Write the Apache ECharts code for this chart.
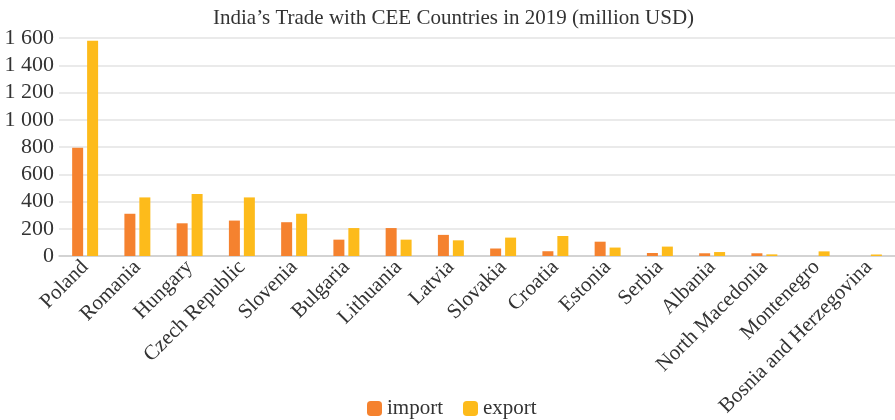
<!DOCTYPE html>
<html><head><meta charset="utf-8">
<script src="https://cdn.jsdelivr.net/npm/echarts@6/dist/echarts.min.js"></script>
<style>html,body{margin:0;padding:0;background:#fff}#c{width:895px;height:420px}</style>
</head><body><div id="c"></div>
<script>
var categories = ["Poland","Romania","Hungary","Czech Republic","Slovenia","Bulgaria","Lithuania","Latvia","Slovakia","Croatia","Estonia","Serbia","Albania","North Macedonia","Montenegro","Bosnia and Herzegovina"];
var importVals = [795,310,240,260,248,120,205,155,55,35,105,22,20,20,0,0];
var exportVals = [1580,430,455,430,310,205,120,115,135,147,62,69,29,12,34,11];
var font = "'Liberation Serif','DejaVu Serif',serif";
var chart = echarts.init(document.getElementById('c'));
chart.setOption({
  animation:false,
  title:{text:"India’s Trade with CEE Countries in 2019 (million USD)",left:208,top:3,textStyle:{fontFamily:font,fontSize:21,fontWeight:'normal',color:'#333'}},
  legend:{left:362,bottom:-4,itemWidth:15,itemHeight:15,itemGap:20,textStyle:{fontFamily:font,fontSize:21,color:'#333'},data:['import','export']},
  grid:{left:59,right:0,top:38,bottom:164},
  xAxis:{type:'category',data:categories,axisTick:{show:false},axisLine:{lineStyle:{color:'#ccc',width:1.5}},
    axisLabel:{rotate:45,interval:0,fontFamily:font,fontSize:21,color:'#333',margin:8}},
  yAxis:{type:'value',min:0,max:1600,interval:200,axisLine:{show:false},axisTick:{show:false},
    splitLine:{lineStyle:{color:'#e3e3e3',width:1.5}},
    axisLabel:{fontFamily:font,fontSize:22,color:'#333',margin:5,formatter:function(v){return v>=1000?Math.floor(v/1000)+' '+String(v%1000).padStart(3,'0'):String(v);}}},
  series:[
    {name:'import',type:'bar',data:importVals,barWidth:11,barGap:'36%',itemStyle:{color:'#f5822f'}},
    {name:'export',type:'bar',data:exportVals,barWidth:11,itemStyle:{color:'#fdbb1b'}}
  ]
});
</script></body></html>
